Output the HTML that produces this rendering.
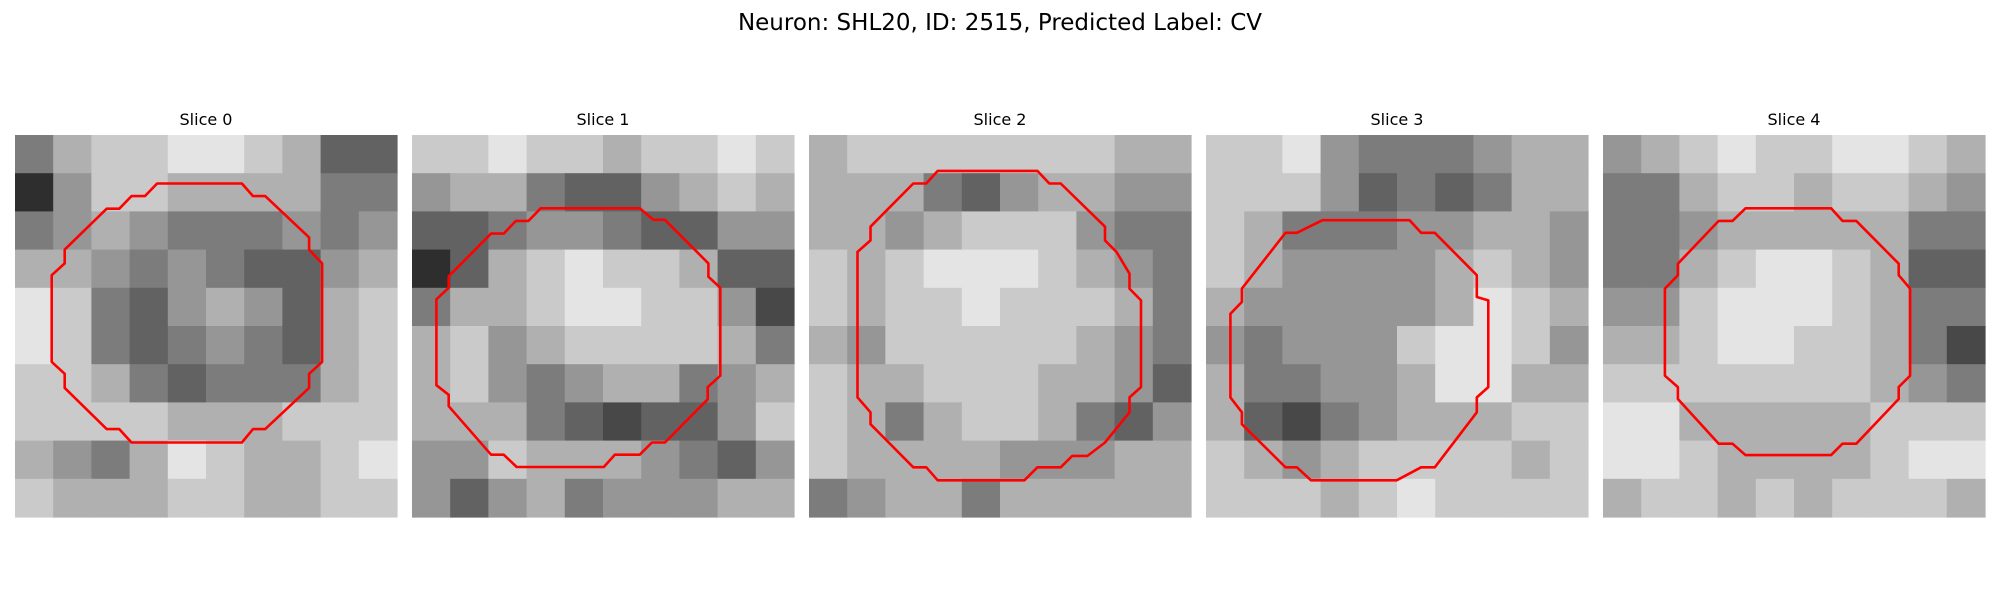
<!DOCTYPE html>
<html><head><meta charset="utf-8">
<style>
html,body{margin:0;padding:0;background:#fff;}
body{width:2000px;height:600px;overflow:hidden;font-family:"Liberation Sans","DejaVu Sans",sans-serif;}
</style></head>
<body>
<svg id="fig" width="2000" height="600" viewBox="0 0 2000 600" xmlns="http://www.w3.org/2000/svg">
<text x="1000" y="30" text-anchor="middle" font-size="23" font-family="DejaVu Sans, Liberation Sans, sans-serif" fill="#000">Neuron: SHL20, ID: 2515, Predicted Label: CV</text>
</svg>
<script>
const sliceTitles = ["Slice 0","Slice 1","Slice 2","Slice 3","Slice 4"];
// coarse grayscale intensities (0=black, 9=white), 10x10 per slice
const slice0 = [
[4,6,7,7,8,8,7,6,3,3],[1,5,7,7,6,6,6,6,4,4],[4,5,6,5,4,4,4,5,4,5],[6,6,5,4,5,4,3,3,5,6],[8,7,4,3,5,6,5,3,6,7],
[8,7,4,3,4,5,4,3,6,7],[7,7,6,4,3,4,4,4,6,7],[7,7,7,7,6,6,6,7,7,7],[6,5,4,6,8,7,6,6,7,8],[7,6,6,6,7,7,6,6,7,7]];
const slice1 = [
[7,7,8,7,7,6,7,7,8,7],[5,6,6,4,3,3,5,6,7,6],[3,3,4,5,5,4,3,3,5,5],[1,3,6,7,8,7,7,6,3,3],[4,6,6,7,8,8,7,7,5,2],
[6,7,5,6,7,7,7,7,6,4],[6,7,5,4,5,6,6,4,5,6],[6,6,6,4,3,2,3,3,5,7],[5,5,7,6,6,6,5,4,3,5],[5,3,5,6,4,5,5,5,6,6]];
const slice2 = [
[6,7,7,7,7,7,7,7,6,6],[6,6,6,4,3,5,6,6,5,5],[6,6,5,6,7,7,7,5,4,4],[7,6,7,8,8,8,7,6,5,4],[7,6,7,7,8,7,7,7,6,4],
[6,5,7,7,7,7,7,6,5,4],[7,6,6,7,7,7,6,6,5,3],[7,6,4,6,7,7,6,4,3,5],[7,6,6,6,6,5,5,5,6,6],[4,5,6,6,4,6,6,6,6,6]];
const slice3 = [
[7,7,8,5,4,4,4,5,6,6],[7,7,7,5,3,4,3,4,6,6],[7,6,4,4,4,5,5,6,6,5],[7,6,5,5,5,5,6,7,6,5],[6,5,5,5,5,5,6,8,7,6],
[5,4,5,5,5,7,8,8,7,5],[6,4,4,5,5,6,8,8,6,6],[6,3,2,4,5,6,6,6,7,7],[7,6,5,6,7,7,7,7,6,7],[7,7,7,6,7,8,7,7,7,7]];
const slice4 = [
[5,6,7,8,7,7,8,8,7,6],[4,4,6,7,7,6,7,7,6,5],[4,4,5,6,6,6,6,6,4,4],[4,4,6,7,8,8,7,6,3,3],[5,5,7,8,8,8,7,6,4,4],
[6,6,7,8,8,7,7,6,4,2],[7,7,7,7,7,7,7,6,5,4],[8,8,6,6,6,6,6,7,7,7],[8,8,7,6,6,6,6,7,8,8],[6,7,7,6,7,6,7,7,7,6]];
const contour0 = [[0.372,0.127],[0.594,0.127],[0.623,0.160],[0.655,0.160],[0.770,0.268],[0.770,0.300],[0.804,0.336],[0.804,0.594],[0.770,0.625],[0.770,0.662],[0.655,0.770],[0.623,0.770],[0.594,0.805],[0.305,0.805],[0.273,0.770],[0.240,0.770],[0.130,0.662],[0.130,0.625],[0.096,0.594],[0.096,0.367],[0.130,0.336],[0.130,0.300],[0.240,0.193],[0.273,0.193],[0.305,0.160],[0.340,0.160]];
const contour1 = [[0.337,0.192],[0.596,0.192],[0.632,0.222],[0.662,0.222],[0.776,0.336],[0.776,0.371],[0.807,0.40],[0.807,0.63],[0.774,0.66],[0.774,0.692],[0.662,0.805],[0.628,0.805],[0.596,0.837],[0.531,0.837],[0.502,0.869],[0.274,0.869],[0.24,0.837],[0.207,0.837],[0.096,0.71],[0.096,0.68],[0.064,0.655],[0.064,0.43],[0.096,0.40],[0.096,0.37],[0.207,0.258],[0.24,0.258],[0.272,0.225],[0.305,0.225]];
const contour2 = [[0.337,0.094],[0.598,0.094],[0.629,0.127],[0.659,0.127],[0.775,0.24],[0.775,0.276],[0.805,0.306],[0.839,0.363],[0.839,0.402],[0.869,0.433],[0.869,0.66],[0.839,0.687],[0.839,0.726],[0.775,0.805],[0.729,0.84],[0.689,0.84],[0.659,0.87],[0.598,0.87],[0.564,0.904],[0.337,0.904],[0.307,0.87],[0.273,0.87],[0.161,0.757],[0.161,0.726],[0.127,0.687],[0.127,0.306],[0.161,0.276],[0.161,0.24],[0.273,0.127],[0.307,0.127]];
const contour3 = [[0.305,0.223],[0.533,0.223],[0.563,0.256],[0.599,0.256],[0.709,0.367],[0.709,0.424],[0.739,0.433],[0.739,0.66],[0.709,0.687],[0.709,0.726],[0.599,0.87],[0.563,0.87],[0.499,0.904],[0.275,0.904],[0.238,0.87],[0.208,0.87],[0.094,0.757],[0.094,0.726],[0.064,0.687],[0.064,0.468],[0.094,0.437],[0.094,0.402],[0.208,0.256],[0.238,0.256]];
const contour4 = [[0.373,0.192],[0.597,0.192],[0.627,0.225],[0.663,0.225],[0.774,0.337],[0.774,0.367],[0.804,0.402],[0.804,0.63],[0.774,0.66],[0.774,0.691],[0.663,0.808],[0.627,0.808],[0.597,0.838],[0.373,0.838],[0.339,0.808],[0.303,0.808],[0.196,0.691],[0.196,0.66],[0.162,0.63],[0.162,0.402],[0.196,0.367],[0.196,0.337],[0.303,0.225],[0.339,0.225]];
const slices = [slice0,slice1,slice2,slice3,slice4];
const contours = [contour0,contour1,contour2,contour3,contour4];

const NS = "http://www.w3.org/2000/svg";
const svg = document.getElementById('fig');
const P0X = 15, PSTEP = 397, PY = 135, PS = 382;
function panelX(i){ return P0X + i*PSTEP; }
function sx(i, f){ return panelX(i) + f*PS; }
function sy(f){ return PY + f*PS; }
function gray(v){ const g = Math.round(20 + v*26); return `rgb(${g},${g},${g})`; }

slices.forEach((grid, i) => {
  const g = document.createElementNS(NS,'g');
  
  
  svg.appendChild(g);
  const t = document.createElementNS(NS,'text');
  
  
  t.setAttribute('x', panelX(i) + PS/2);
  t.setAttribute('y', 125);
  t.setAttribute('text-anchor', 'middle');
  t.setAttribute('font-size', '16');
  t.setAttribute('font-family', 'DejaVu Sans, Liberation Sans, sans-serif');
  t.textContent = sliceTitles[i];
  g.appendChild(t);
  const n = grid.length;
  grid.forEach((row, r) => {
    row.forEach((v, c) => {
      const rc = document.createElementNS(NS,'rect');
      
      
      const x0 = sx(i, c/n), x1 = sx(i, (c+1)/n), y0 = sy(r/n), y1 = sy((r+1)/n);
      rc.setAttribute('x', x0.toFixed(2));
      rc.setAttribute('y', y0.toFixed(2));
      rc.setAttribute('width', (x1-x0+0.6).toFixed(2));
      rc.setAttribute('height', (y1-y0+0.6).toFixed(2));
      rc.setAttribute('fill', gray(v));
      g.appendChild(rc);
    });
  });
  const pl = document.createElementNS(NS,'polygon');
  
  
  pl.setAttribute('points', contours[i].map(p => sx(i,p[0]).toFixed(1)+','+sy(p[1]).toFixed(1)).join(' '));
  pl.setAttribute('fill', 'none');
  pl.setAttribute('stroke', '#ff0000');
  pl.setAttribute('stroke-width', '2.6');
  pl.setAttribute('stroke-linejoin', 'round');
  g.appendChild(pl);
});
</script>
</body></html>
